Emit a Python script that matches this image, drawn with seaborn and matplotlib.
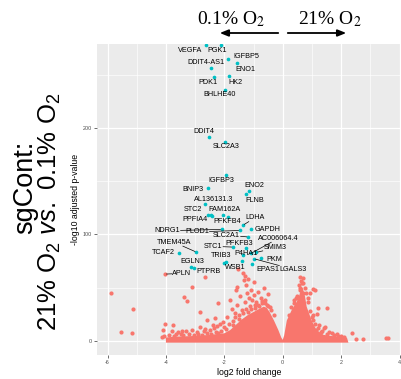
import numpy as np
import pandas as pd
import matplotlib
matplotlib.use("Agg")
import matplotlib.pyplot as plt
import seaborn as sns

# ---------------- data ----------------
genes = ["VEGFA", "PGK1", "IGFBP5", "ENO1", "DDIT4-AS1", "PDK1", "HK2", "BHLHE40",
         "DDIT4", "SLC2A3", "IGFBP3", "BNIP3", "ENO2", "FLNB", "AL136131.3",
         "STC2", "PPFIA4", "FAM162A", "PFKFB4", "LDHA", "NDRG1", "PLOD1", "GAPDH",
         "SLC2A1", "AC006064.4", "PFKFB3", "STC1", "SMIM3", "P4HA1", "PKM",
         "TRIB3", "WSB1", "EPAS1", "LGALS3", "TMEM45A", "TCAF2", "EGLN3",
         "APLN", "PTPRB"]
gene_lfc = [-2.63, -2.11, -1.88, -1.55, -2.45, -2.36, -1.83, -1.98,
            -2.53, -1.99, -1.94, -2.57, -1.16, -1.26, -2.67,
            -2.55, -2.46, -2.03, -1.87, -1.36, -2.08, -1.46, -1.10,
            -1.18, -1.09, -1.26, -1.70, -0.90, -1.37, -0.75,
            -1.95, -1.39, -1.04, -0.98, -2.96, -3.56, -3.14,
            -4.03, -2.66]
gene_p = [278, 278, 265, 261, 256, 248, 249, 236,
          191, 186.6, 156, 143.7, 140.8, 138, 128.4,
          118.3, 118.0, 117.7, 116, 108.6, 104.6, 103.6, 104.6,
          97.5, 82, 87.3, 88, 83, 80.5, 78,
          73.6, 75, 72.3, 77, 83.3, 82.3, 69,
          62.6, 59.5]
gene_sig = ["yes"] * 37 + ["no", "no"]

# extra significant (unlabelled) points
extra_lfc = [-2.02, -3.03, -2.41]
extra_p = [73.2, 68.5, 117.6]

# scattered non-significant genes
bg_lfc = [-5.88, -5.12, -5.55, -5.16, -4.13, -4.08, -4.03, -3.79, -3.77, -3.72,
          -3.60, -3.45, -3.30, -3.10, -3.37, -3.27, -3.12, -2.83, -2.83, -2.95,
          -2.70, -2.58, -2.50, -2.35, -2.32, -2.20, -2.15, -2.05, -1.95, -1.90,
          -1.80, -1.75, -1.72, -1.63, -1.60, -1.58, -1.52, -1.55, -1.50, -1.45,
          -1.40, -1.35, -1.32, -1.30, -1.28, -1.25, -1.22, -1.20, -1.18, -1.15,
          -1.12, -1.10, -1.05, -1.00, -0.98, -0.95, -0.90, -0.85, -0.80, -0.75,
          -0.70, -0.65, -0.60, -0.55, -0.50, -0.45, -0.40, -0.30,
          -3.50, -3.40, -3.20, -3.05, -2.90, -2.75, -2.60, -2.45, -2.30, -2.20,
          -2.10, -2.40, -2.25, -2.00, -1.85, -1.70, -1.65, -1.50, -1.35, -1.25,
          -1.10, -0.95, -0.85, -0.70, -0.60, -0.50, -3.90, -4.10, -3.65, -2.65,
          0.59, 0.71, 0.65, 0.55, 0.75, 1.10, 1.05, 0.93, 0.88, 1.22,
          1.51, 1.16, 1.05, 1.00, 1.45, 1.42, 1.60, 1.70, 1.35, 1.90,
          2.36, 2.50, 2.76, 3.54, 3.60, 0.45, 0.40, 0.80, 1.25, 1.15,
          0.30, 0.40, 0.50, 0.60, 0.70, 0.85, 0.95, 1.05, 1.10, 1.20,
          1.30, 1.50, 1.75, 2.00, 2.10, 1.85, 0.62, 0.68, 0.58, 0.20]
bg_p = [45.1, 29.8, 8.2, 7.2, 3.8, 4.3, 15.7, 9.5, 14.5, 4.5,
        8.5, 9.0, 9.5, 10.0, 40.7, 37.0, 50.7, 27.2, 13.2, 8.0,
        9.0, 19.4, 10.0, 12.0, 21.0, 35.7, 16.0, 18.0, 11.0, 22.0,
        38.2, 30.0, 15.0, 25.7, 47.6, 50.7, 67.3, 34.0, 20.0, 42.0,
        29.0, 63.3, 57.0, 60.5, 36.0, 52.0, 45.0, 27.0, 58.0, 40.0,
        33.0, 48.0, 38.0, 43.0, 55.0, 31.0, 36.0, 46.0, 33.0, 40.0,
        35.0, 50.0, 38.0, 34.0, 44.0, 32.0, 29.0, 24.0,
        6.0, 5.0, 6.5, 5.0, 6.0, 5.5, 7.0, 6.5, 8.0, 7.0,
        9.0, 15.0, 14.0, 13.0, 16.0, 19.0, 22.0, 24.0, 26.0, 30.0,
        30.0, 34.0, 34.0, 37.0, 35.0, 33.0, 5.0, 10.0, 6.0, 11.0,
        59.5, 58.6, 54.0, 52.0, 50.0, 47.6, 48.3, 44.5, 40.0, 30.4,
        30.4, 25.0, 19.4, 22.0, 13.2, 12.0, 8.5, 7.5, 9.0, 4.5,
        6.9, 1.6, 1.6, 2.8, 2.8, 40.0, 35.0, 45.0, 15.0, 10.0,
        32.0, 38.0, 42.0, 48.0, 45.0, 36.0, 28.0, 24.0, 16.0, 12.0,
        8.0, 6.0, 5.0, 4.0, 3.5, 6.0, 56.0, 54.0, 50.0, 24.0]

# outline of the dense (overplotted) core of the volcano
core_lfc = [-4.0, -4.0, -3.7, -3.0, -2.5, -2.0, -1.8, -1.6, -1.4, -1.2, -1.0,
            -0.8, -0.65, -0.55, -0.45, -0.3, -0.15, -0.05, 0.0, 0.05, 0.14,
            0.31, 0.48, 0.56, 0.62, 0.68, 0.76, 0.82, 0.99, 1.16, 1.4, 1.8,
            2.2, 2.25]
core_p = [-1.8, 3.0, 3.8, 4.5, 5.5, 7.0, 10.0, 15.0, 20.0, 24.0, 27.0,
          30.0, 32.0, 31.0, 27.0, 19.0, 10.0, 3.0, 0.8, 5.0, 19.0,
          29.0, 36.6, 42.0, 48.0, 50.0, 42.0, 32.0, 19.0, 10.0, 5.5, 4.0,
          2.8, -1.8]

x_ticks = [-6, -4, -2, 0, 2, 4]
y_ticks = [0, 100, 200]

# label offsets (pixels, +x right, +y down)
lab_dx = [-16, -3.7, 18, 7.7, -5.3, -5.4, 5.7, -5.7,
          -5.4, 1.3, -4.3, -15, 5.3, 9, 8.6,
          -15, -16, 0.7, -1.3, 12, -54.7, -43, 17,
          -21.6, 27.3, -6.5, -19.7, 18.3, 3, 13.3,
          -5, -7, 16, 39.3, -22, -15.4, 1.7,
          16.7, 3.3]
lab_dy = [5.3, 5.3, -2, 6.4, -5.6, 6, 6.7, 5,
          -5.6, 4.7, 5.7, 1.3, -5.7, 6.3, -4.7,
          -5.4, 4.5, -6, 4.7, -7.3, 1.3, 1.4, 0,
          -1.7, -15, -4.4, -0.7, -4.4, -1.7, 2,
          -6.6, 7, 5.6, 10.6, -9.7, -0.3, -5.3,
          -0.7, -5.6]

RED = "#F8766D"
TEAL = "#00BFC4"

# ---------------- figure ----------------
W, H = 401, 379
fig = plt.figure(figsize=(W / 100, H / 100), dpi=100)
plt.rcParams['mathtext.fontset'] = 'custom'
plt.rcParams['mathtext.rm'] = 'Liberation Sans'
plt.rcParams['mathtext.it'] = 'Liberation Sans:italic'
plt.rcParams['mathtext.sf'] = 'Liberation Sans'
plt.rcParams['font.family'] = ['Liberation Sans', 'DejaVu Sans']

left, right, top, bottom = 97, 401, 44.3, 355
ax = fig.add_axes([left / W, 1 - bottom / H, (right - left) / W, (bottom - top) / H])
ax.set_facecolor("#EBEBEB")
for s in ax.spines.values():
    s.set_visible(False)

ax.set_xlim(-6.36, 4.05)
ax.set_ylim(-13.4, 278.5)

ax.set_xticks(x_ticks)
ax.set_xticklabels([str(t) for t in x_ticks])
ax.set_yticks(y_ticks)
ax.set_yticklabels([str(t) for t in y_ticks])
ax.set_xticks([-5, -3, -1, 1, 3], minor=True)
ax.set_yticks([50, 150, 250], minor=True)
ax.grid(which="major", color="white", linewidth=0.9)
ax.grid(which="minor", color="white", linewidth=0.45)
ax.set_axisbelow(True)
ax.tick_params(which="major", length=2.2, width=0.5, color="#333333",
               labelsize=3.9, labelcolor="#4D4D4D", pad=1.5)
ax.tick_params(which="minor", length=0)

# dense core
ax.fill(core_lfc, core_p, color=RED, linewidth=0, zorder=2)

bg = pd.DataFrame({"lfc": bg_lfc, "p": bg_p})
sns.scatterplot(data=bg, x="lfc", y="p", color=RED, s=9, linewidth=0, ax=ax, zorder=3)

gd = pd.DataFrame({"gene": genes, "lfc": gene_lfc, "p": gene_p, "sig": gene_sig})
sns.scatterplot(data=gd[gd.sig == "no"], x="lfc", y="p", color=RED, s=9, linewidth=0,
                ax=ax, zorder=3)
sns.scatterplot(data=gd[gd.sig == "yes"], x="lfc", y="p", color=TEAL, s=7, linewidth=0,
                ax=ax, zorder=4)
ex = pd.DataFrame({"lfc": extra_lfc, "p": extra_p})
sns.scatterplot(data=ex, x="lfc", y="p", color=TEAL, s=7, linewidth=0, ax=ax, zorder=4)

ax.set_xlabel("log2 fold change", fontsize=6.3, labelpad=2)
ax.set_ylabel("-log10 adjusted p-value", fontsize=6.3, labelpad=2)
ax.legend_ = None

# labels
texts = []
fig.canvas.draw()
for g, x, y, dx, dy in zip(genes, gene_lfc, gene_p, lab_dx, lab_dy):
    px, py = ax.transData.transform((x, y))
    t = ax.text(px + dx, py - dy, g, transform=None, fontsize=5.2,
                ha="center", va="center", color="black", zorder=6)
    texts.append((t, px, py))

fig.canvas.draw()
renderer = fig.canvas.get_renderer()
for t, px, py in texts:
    bb = t.get_window_extent(renderer)
    cx, cy = (bb.x0 + bb.x1) / 2, (bb.y0 + bb.y1) / 2
    dxp, dyp = px - cx, py - cy
    hw, hh = bb.width / 2 + 0.5, bb.height / 2 + 0.3
    if abs(dxp) <= hw and abs(dyp) <= hh:
        continue
    s = min(hw / abs(dxp) if dxp else 1e9, hh / abs(dyp) if dyp else 1e9)
    ex0, ey0 = cx + dxp * s, cy + dyp * s
    seg = np.hypot(px - ex0, py - ey0)
    if seg < 6:
        continue
    sh = 1.6 / seg
    ax.plot([ex0, px - (px - ex0) * sh], [ey0, py - (py - ey0) * sh],
            transform=None, color="black", linewidth=0.5, zorder=5)

# big left title (baseline-anchored, rotated)
fig.text(32.5 / W, 1 - 187 / H, "sgCont:", rotation=90, fontsize=19.5,
         ha="center", va="baseline", rotation_mode="anchor")
fig.text(57 / W, 1 - 212 / H, r"21% O$_2$ $\mathit{vs.}$ 0.1% O$_2$", rotation=90,
         fontsize=18.5, ha="center", va="baseline", rotation_mode="anchor")

# top annotation
fig.text(231 / W, 1 - 19 / H, r"0.1% O$_2$", fontsize=14, ha="center", va="center",
         family=["Liberation Serif"], math_fontfamily="stix")
fig.text(330 / W, 1 - 19 / H, r"21% O$_2$", fontsize=14, ha="center", va="center",
         family=["Liberation Serif"], math_fontfamily="stix")
arrow_kw = dict(arrowstyle="-|>,head_length=0.5,head_width=0.2", color="black", lw=1.3)
fig.add_artist(matplotlib.patches.FancyArrowPatch(
    (281 / W, 1 - 33 / H), (217 / W, 1 - 33 / H), transform=fig.transFigure,
    mutation_scale=10, **arrow_kw))
fig.add_artist(matplotlib.patches.FancyArrowPatch(
    (285 / W, 1 - 33 / H), (349 / W, 1 - 33 / H), transform=fig.transFigure,
    mutation_scale=10, **arrow_kw))

fig.savefig("out.png", dpi=100)
